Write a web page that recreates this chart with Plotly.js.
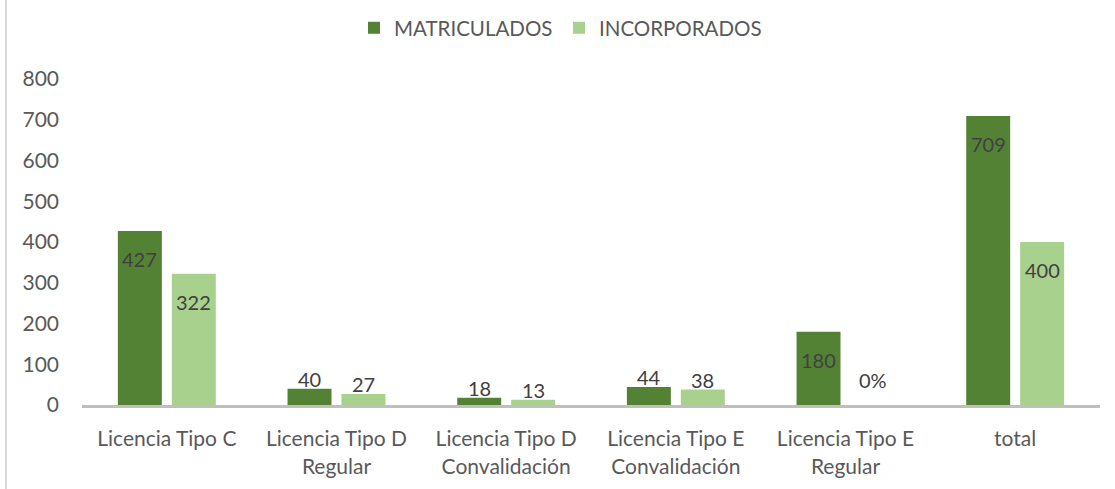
<!DOCTYPE html>
<html><head><meta charset="utf-8">
<script src="https://cdn.plot.ly/plotly-3.0.1.min.js"></script>
<style>html,body{margin:0;padding:0;background:#fff;}#chart{width:1115px;height:489px;}
#edge{position:absolute;left:5px;top:0;width:2px;height:489px;background:#D9D9D9;z-index:5;}</style>
</head><body><div id="edge"></div><div id="chart"></div>
<script>
const categories = ["Licencia Tipo C","Licencia Tipo D<br>Regular","Licencia Tipo D<br>Convalidación","Licencia Tipo E<br>Convalidación","Licencia Tipo E<br>Regular","total"];
const matriculados = [427, 40, 18, 44, 180, 709];
const incorporados = [322, 27, 13, 38, 0, 400];
const matriculadosLabels = ["427","40","18","44","180","709"];
const incorporadosLabels = ["322","27","13","38","0%","400"];
const matriculadosInside = [true,false,false,false,true,true];
const incorporadosInside = [true,false,false,false,false,true];

const FONT = "Lato, 'Open Sans', sans-serif";
const dark = "#548235", light = "#A9D18E";

const traces = [
  {type:'bar', name:'MATRICULADOS', x:categories, y:matriculados, marker:{color:dark}, hoverinfo:'none'},
  {type:'bar', name:'INCORPORADOS', x:categories, y:incorporados, marker:{color:light}, hoverinfo:'none'}
];

const annotations = [];
function addLabels(vals, labels, inside, xshift){
  vals.forEach((v,i)=>{
    const isIn = inside[i];
    annotations.push({
      x: categories[i], y: v, xref:'x', yref:'y', text: labels[i], showarrow:false,
      xshift: xshift, yshift: isIn ? -28 : (v===0 ? 25 : 10), yanchor:'middle',
      font:{family:FONT, size:20, color:'#404040'}
    });
  });
}
addLabels(matriculados, matriculadosLabels, matriculadosInside, -27);
addLabels(incorporados, incorporadosLabels, incorporadosInside, 27);

const layout = {
  width:1115, height:489,
  margin:{l:82, r:15, t:79, b:84},
  paper_bgcolor:'#fff', plot_bgcolor:'#fff',
  font:{family:FONT, size:21, color:'#595959'},
  barmode:'group', bargap:0.364, bargroupgap:0.185,
  showlegend:true,
  legend:{orientation:'h', x:354/1115, xref:'container', xanchor:'left', y:0.943, yref:'container', yanchor:'middle',
    font:{family:FONT, size:20.5, color:'#595959'}, itemwidth:30, traceorder:'normal',
    entrywidth:160, entrywidthmode:'pixels'},
  xaxis:{type:'category', showgrid:false, zeroline:false, showline:true, linecolor:'#BFBFBF', linewidth:3,
    ticks:'', ticklabelstandoff:13, tickfont:{family:FONT, size:21, color:'#595959'}},
  yaxis:{range:[0,800], dtick:100, showgrid:false, zeroline:false, showline:false, ticks:'',
    ticklabelstandoff:22, tickfont:{family:FONT, size:21, color:'#595959'}},
  annotations: annotations
};
Plotly.newPlot('chart', traces, layout, {staticPlot:true, displayModeBar:false});
</script></body></html>
